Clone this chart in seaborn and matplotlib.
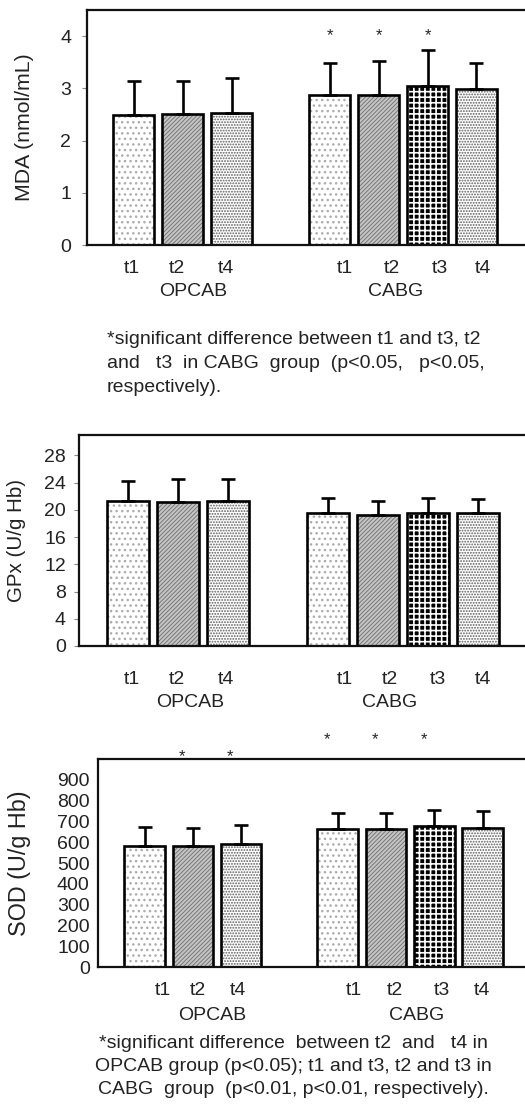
import numpy as np
import pandas as pd
import seaborn as sns
import matplotlib.pyplot as plt
import matplotlib.colors as mcolors

# time points and bar slots (slot 3 left empty as a gap between groups)
times_opcab = ['t1', 't2', 't4']
times_cabg = ['t1', 't2', 't3', 't4']
slots_opcab = [0, 1, 2]
slots_cabg = [4, 5, 6, 7]
groups = ['OPCAB', 'CABG']

# MDA (nmol/mL): mean and upper SD
mda_opcab = [2.49, 2.50, 2.52]
mda_opcab_sd = [0.65, 0.65, 0.67]
mda_cabg = [2.87, 2.87, 3.05, 2.98]
mda_cabg_sd = [0.62, 0.65, 0.68, 0.50]

# GPx (U/g Hb)
gpx_opcab = [21.3, 21.1, 21.3]
gpx_opcab_sd = [2.9, 3.4, 3.2]
gpx_cabg = [19.5, 19.3, 19.5, 19.6]
gpx_cabg_sd = [2.3, 2.0, 2.3, 2.0]

# SOD (U/g Hb)
sod_opcab = [584, 580, 593]
sod_opcab_sd = [88, 88, 90]
sod_cabg = [664, 662, 679, 668]
sod_cabg_sd = [76, 78, 76, 82]

# significance stars: slot and height
mda_star_slots = [4, 5, 6]
mda_star_y = [4.0, 4.0, 4.0]
sod_star_slots = [1, 2, 4, 5, 6]
sod_star_y = [1010, 1010, 1091, 1091, 1091]

caption_mda = ["*significant difference between t1 and t3, t2",
               "and   t3  in CABG  group  (p<0.05,   p<0.05,",
               "respectively)."]
caption_sod = ["*significant difference  between t2  and   t4 in",
               "OPCAB group (p<0.05); t1 and t3, t2 and t3 in",
               "CABG  group  (p<0.01, p<0.01, respectively)."]

sns.set_style('ticks')
plt.rcParams['font.family'] = ['Liberation Sans', 'DejaVu Sans']

# fill pattern per time point (t3: black cells split by a white grid)
styles = {
    't1': dict(face='white', hatch='...', hc='#ababab', hlw=1.0),
    't2': dict(face='#c4c4c4', hatch='////////', hc='#6e6e6e', hlw=0.6),
    't3': dict(face='black', hatch='+++', hc='white', hlw=1.2),
    't4': dict(face='white', hatch='......', hc='#5e5e5e', hlw=0.9),
}


def panel(ax, opcab, opcab_sd, cabg, cabg_sd, ylabel, ylim, yticks, xlim,
          tick_x, group_x, tick_pad, group_off, label_x, label_size, ypad):
    df = pd.DataFrame({'pos': slots_opcab + slots_cabg,
                       'val': opcab + cabg,
                       'sd': opcab_sd + cabg_sd,
                       'time': times_opcab + times_cabg})
    sns.barplot(data=df, x='pos', y='val', native_scale=True, width=0.84,
                color='white', edgecolor='black', linewidth=1.9,
                errorbar=None, ax=ax)
    bars = sorted(ax.patches, key=lambda p: p.get_x())
    for p, t in zip(bars, df['time']):
        st = styles[t]
        p.set_facecolor(st['face'])
        p.set_hatch(st['hatch'])
        p._hatch_color = mcolors.to_rgba(st['hc'])
        if hasattr(p, 'set_hatch_linewidth'):
            p.set_hatch_linewidth(st['hlw'])
        else:
            p._hatch_linewidth = st['hlw']
    ax.errorbar(df['pos'], df['val'], yerr=[np.zeros(len(df)), df['sd']],
                fmt='none', ecolor='black', elinewidth=1.9, capsize=4.7,
                capthick=1.9, zorder=3)

    ax.set_xlim(xlim)
    ax.set_ylim(ylim)
    ax.set_yticks(yticks)
    ax.set_xticks(tick_x, times_opcab + times_cabg)
    ax.tick_params(axis='x', length=0, pad=tick_pad, labelsize=14, colors='#222222')
    ax.tick_params(axis='y', length=3.5, width=0.8, color='#888888',
                   labelsize=14, labelcolor='#222222', pad=ypad)
    for gname, gx in zip(groups, group_x):
        ax.annotate(gname, xy=(gx, 0), xycoords=('data', 'axes fraction'),
                    xytext=(0, -group_off), textcoords='offset points',
                    ha='center', va='center', fontsize=14, color='#222222')
    ax.set_xlabel('')
    ax.set_ylabel(ylabel, fontsize=label_size, color='#222222')
    ax.yaxis.label.set_verticalalignment('center')
    ax.yaxis.set_label_coords(label_x, 0.5)
    for side in ['left', 'bottom', 'top']:
        ax.spines[side].set_linewidth(1.6)
        ax.spines[side].set_color('#111111')
    ax.spines['right'].set_visible(False)


W, H = 525, 1104
fig = plt.figure(figsize=(W / 100, H / 100), dpi=100)

ax1 = fig.add_axes([87 / W, 1 - 245 / H, 1 - 87 / W, 235 / H])
panel(ax1, mda_opcab, mda_opcab_sd, mda_cabg, mda_cabg_sd, 'MDA (nmol/mL)',
      (0, 4.5), [0, 1, 2, 3, 4], (-0.95, 7.99),
      [-0.03, 0.89, 1.89, 4.32, 5.28, 6.26, 7.13], [1.21, 5.34],
      10.5, 33.5, (25 - 87) / 438, 15.3, 8)
for sx, sy in zip(mda_star_slots, mda_star_y):
    ax1.text(sx, sy, '*', ha='center', va='center', fontsize=12)

ax2 = fig.add_axes([79 / W, 1 - 646 / H, 1 - 79 / W, 211 / H])
panel(ax2, gpx_opcab, gpx_opcab_sd, gpx_cabg, gpx_cabg_sd, 'GPx (U/g Hb)',
      (0, 31), [0, 4, 8, 12, 16, 20, 24, 28], (-0.97, 7.94),
      [0.08, 0.98, 1.97, 4.34, 5.24, 6.2, 7.09], [1.25, 5.24],
      18, 40.5, (16 - 79) / 446, 14.8, 6)

ax3 = fig.add_axes([98 / W, 1 - 967 / H, 1 - 98 / W, 208 / H])
panel(ax3, sod_opcab, sod_opcab_sd, sod_cabg, sod_cabg_sd, 'SOD (U/g Hb)',
      (0, 1000), list(range(0, 1000, 100)), (-0.963, 7.88),
      [0.38, 1.11, 1.94, 4.34, 5.19, 6.16, 6.99], [1.40, 5.64],
      10.5, 35, (20 - 98) / 427, 16.8, 6)
ax3.tick_params(axis='y', length=0)
for sx, sy in zip(sod_star_slots, sod_star_y):
    ax3.text(sx - 0.22, sy, '*', ha='center', va='center', fontsize=12,
             clip_on=False)

for i, line in enumerate(caption_mda):
    fig.text(107 / W, 1 - (340 + 24 * i) / H, line, ha='left', va='center',
             fontsize=14, color='#222222')
for i, line in enumerate(caption_sod):
    fig.text(293 / W, 1 - (1043 + 23.5 * i) / H, line, ha='center',
             va='center', fontsize=14, color='#222222')

fig.savefig('out.png', dpi=100)
